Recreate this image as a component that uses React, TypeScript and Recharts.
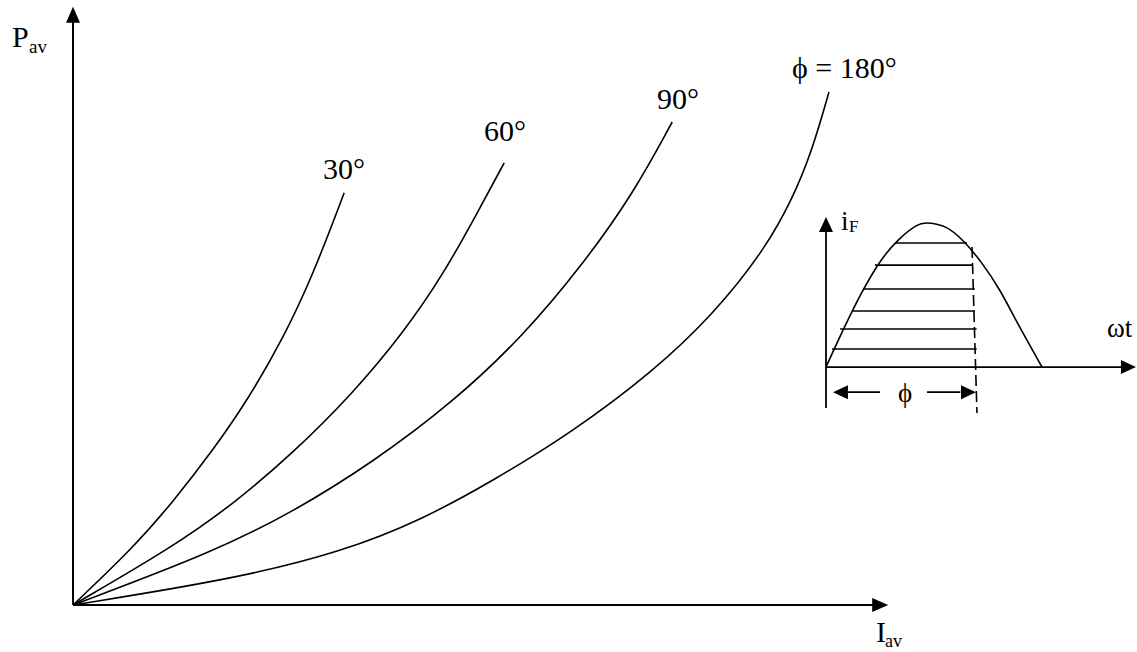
import React from "react";
import { ComposedChart, Line, XAxis, YAxis, ReferenceLine, Scatter } from "recharts";

// main chart: I_av (x) vs P_av (y), arbitrary units
const curve30 = [
  { i: 0, p: 0 },
  { i: 7.5, p: 9.5 },
  { i: 12.5, p: 17.2 },
  { i: 17.5, p: 25.8 },
  { i: 21.9, p: 34.3 },
  { i: 26.3, p: 44.5 },
  { i: 30, p: 55 },
  { i: 33.9, p: 68.7 },
];

const curve60 = [
  { i: 0, p: 0 },
  { i: 12.5, p: 9.7 },
  { i: 20, p: 16.8 },
  { i: 27.5, p: 25.3 },
  { i: 35, p: 35.3 },
  { i: 41.25, p: 45.3 },
  { i: 46.25, p: 55 },
  { i: 50.6, p: 65.5 },
  { i: 53.9, p: 73.7 },
];

const curve90 = [
  { i: 0, p: 0 },
  { i: 17.5, p: 8.8 },
  { i: 27.5, p: 15.5 },
  { i: 37.5, p: 23.8 },
  { i: 47.5, p: 33.8 },
  { i: 56.25, p: 44.8 },
  { i: 63.75, p: 56.8 },
  { i: 70, p: 68.5 },
  { i: 74.9, p: 80.5 },
];

const curve180 = [
  { i: 0, p: 0 },
  { i: 20, p: 4.3 },
  { i: 33.75, p: 8.9 },
  { i: 43.75, p: 14.3 },
  { i: 52.5, p: 20.7 },
  { i: 62.5, p: 28.9 },
  { i: 72.5, p: 38.9 },
  { i: 80, p: 48.4 },
  { i: 86.25, p: 58.8 },
  { i: 90, p: 67.8 },
  { i: 92.5, p: 76.2 },
  { i: 94.5, p: 85.5 },
];

// inset: forward current i_F over one half cycle (degrees)
const currentWave = [
  { i: 0, p: 0 },
  { i: 15, p: 0.27 },
  { i: 30, p: 0.52 },
  { i: 45, p: 0.73 },
  { i: 60, p: 0.88 },
  { i: 75, p: 0.98 },
  { i: 85, p: 1.0 },
  { i: 100, p: 0.97 },
  { i: 115, p: 0.87 },
  { i: 130, p: 0.72 },
  { i: 145, p: 0.53 },
  { i: 160, p: 0.3 },
  { i: 180, p: 0 },
];

// shaded conduction region (horizontal hatch lines)
const hatchLevels = [0.861, 0.708, 0.542, 0.389, 0.264, 0.125];
const hatchStart = [57.5, 40.8, 30.8, 22.5, 11.7, 5];
const hatchEnd = [117.5, 121.7, 124, 124.2, 125.5, 125.6];

const conductionEnd = [
  { x: 121.7, y: 0.833 },
  { x: 125.8, y: -0.319 },
];

const BLACK = "#000";
const SERIF = "'Liberation Serif', 'Times New Roman', serif";

function arrowShape(dir: "up" | "right" | "left", len: number, half: number) {
  return (props: any) => {
    const { cx, cy } = props;
    let pts = "";
    if (dir === "up") pts = `${cx},${cy} ${cx - half},${cy + len} ${cx + half},${cy + len}`;
    if (dir === "right") pts = `${cx},${cy} ${cx - len},${cy - half} ${cx - len},${cy + half}`;
    if (dir === "left") pts = `${cx},${cy} ${cx + len},${cy - half} ${cx + len},${cy + half}`;
    return <polygon points={pts} fill={BLACK} />;
  };
}

export default function App() {
  return (
    <div style={{ position: "relative", width: 1137, height: 652, background: "#fff", overflow: "hidden" }}>
      <style>{`body{margin:0;}`}</style>

      <div style={{ position: "absolute", left: 0, top: 0 }}>
        <ComposedChart width={1137} height={652} margin={{ top: 5, right: 248, bottom: 47, left: 73 }}>
          <XAxis type="number" dataKey="i" domain={[0, 102]} hide />
          <YAxis type="number" dataKey="p" domain={[0, 100]} hide />
          <ReferenceLine segment={[{ x: 0, y: 0 }, { x: 100, y: 0 }]} stroke={BLACK} strokeWidth={2} />
          <ReferenceLine segment={[{ x: 0, y: 0 }, { x: 0, y: 97.2 }]} stroke={BLACK} strokeWidth={2} />
          <Scatter data={[{ i: 0, p: 99.7 }]} shape={arrowShape("up", 16, 7)} isAnimationActive={false} />
          <Scatter data={[{ i: 101.9, p: 0 }]} shape={arrowShape("right", 16, 7)} isAnimationActive={false} />
          <Line data={curve30} dataKey="p" type="basis" stroke={BLACK} strokeWidth={1.6} dot={false} isAnimationActive={false} />
          <Line data={curve60} dataKey="p" type="basis" stroke={BLACK} strokeWidth={1.6} dot={false} isAnimationActive={false} />
          <Line data={curve90} dataKey="p" type="basis" stroke={BLACK} strokeWidth={1.6} dot={false} isAnimationActive={false} />
          <Line data={curve180} dataKey="p" type="basis" stroke={BLACK} strokeWidth={1.6} dot={false} isAnimationActive={false} />
        </ComposedChart>
      </div>

      <div style={{ position: "absolute", left: 800, top: 200 }}>
        <ComposedChart width={337} height={230} margin={{ top: 17, right: 1, bottom: 15.4, left: 26 }}>
          <XAxis type="number" dataKey="i" domain={[0, 258.33]} hide />
          <YAxis type="number" dataKey="p" domain={[-0.33, 1.042]} hide />
          <ReferenceLine segment={[{ x: 0, y: 0 }, { x: 246.7, y: 0 }]} stroke={BLACK} strokeWidth={1.8} />
          <ReferenceLine segment={[{ x: 0, y: -0.285 }, { x: 0, y: 0.94 }]} stroke={BLACK} strokeWidth={1.8} />
          <Scatter data={[{ i: 0, p: 1.042 }]} shape={arrowShape("up", 15, 7)} isAnimationActive={false} />
          <Scatter data={[{ i: 258.3, p: 0 }]} shape={arrowShape("right", 15, 7)} isAnimationActive={false} />
          {hatchLevels.map((lvl, k) => (
            <ReferenceLine
              key={k}
              segment={[{ x: hatchStart[k], y: lvl }, { x: hatchEnd[k], y: lvl }]}
              stroke={BLACK}
              strokeWidth={1.6}
            />
          ))}
          <ReferenceLine segment={conductionEnd} stroke={BLACK} strokeWidth={1.6} strokeDasharray="11 5" ifOverflow="visible" />
          <ReferenceLine segment={[{ x: 18.3, y: -0.174 }, { x: 45, y: -0.174 }]} stroke={BLACK} strokeWidth={1.6} />
          <ReferenceLine segment={[{ x: 84.2, y: -0.174 }, { x: 112, y: -0.174 }]} stroke={BLACK} strokeWidth={1.6} />
          <Scatter data={[{ i: 5.8, p: -0.174 }]} shape={arrowShape("left", 15, 7)} isAnimationActive={false} />
          <Scatter data={[{ i: 125, p: -0.174 }]} shape={arrowShape("right", 15, 7)} isAnimationActive={false} />
          <Line data={currentWave} dataKey="p" type="natural" stroke={BLACK} strokeWidth={1.6} dot={false} isAnimationActive={false} />
        </ComposedChart>
      </div>

      <svg width={1137} height={652} style={{ position: "absolute", left: 0, top: 0, pointerEvents: "none" }}>
        <g fontFamily={SERIF} fill={BLACK}>
          <text x={12} y={47} fontSize={30}>P</text>
          <text x={29} y={53} fontSize={19}>av</text>
          <text x={876} y={642} fontSize={30}>I</text>
          <text x={885} y={647} fontSize={18}>av</text>
          <text x={344} y={179} fontSize={30} textAnchor="middle">30°</text>
          <text x={505} y={141} fontSize={30} textAnchor="middle">60°</text>
          <text x={678} y={109} fontSize={30} textAnchor="middle">90°</text>
          <text x={792} y={78} fontSize={30}>ϕ = 180°</text>
          <text x={841} y={230} fontSize={27}>i</text>
          <text x={849} y={232} fontSize={17}>F</text>
          <text x={1107} y={337} fontSize={27}>ωt</text>
          <text x={905} y={402} fontSize={27} textAnchor="middle">ϕ</text>
        </g>
      </svg>
    </div>
  );
}
